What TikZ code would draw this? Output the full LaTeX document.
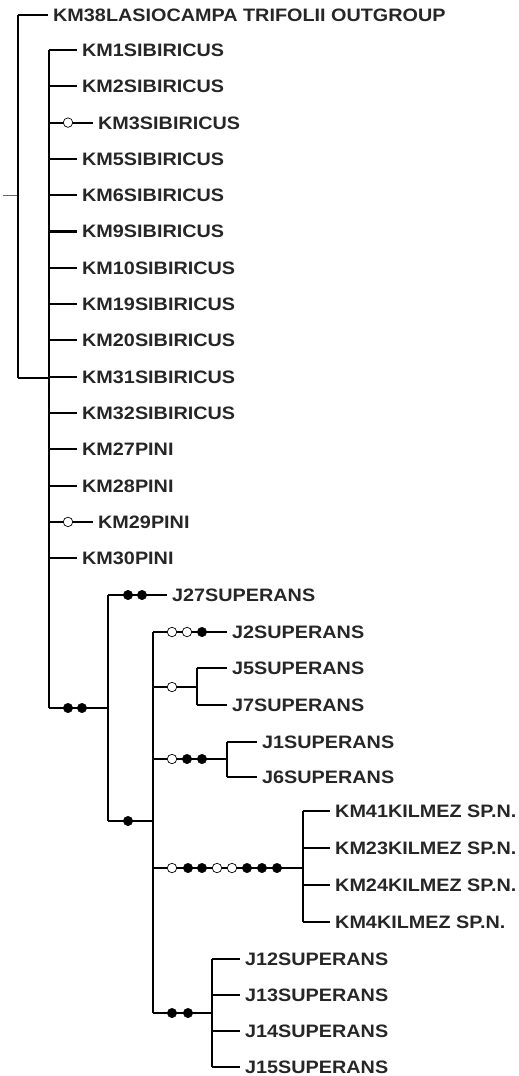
\documentclass[tikz,border=0pt]{standalone}
\usepackage{fontspec}
\setmainfont{Liberation Sans}[FakeStretch=1.1]

\tikzset{
  branch/.style={line width=2.1pt},
  leaf/.style={anchor=west,inner xsep=5pt,inner ysep=0pt,text height=12.9pt,text depth=0pt,
    font=\fontsize{18}{20}\selectfont\bfseries,text=black!85},
  fdot/.style={circle,fill=black,draw=black,line width=.4pt,minimum size=9.5pt,inner sep=0pt},
  odot/.style={circle,fill=white,draw=black,line width=.7pt,minimum size=9.5pt,inner sep=0pt}
}

\begin{document}
\begin{tikzpicture}[x=1pt,y=-1pt]
      \useasboundingbox (0,0) rectangle (519,1076);
      % root
      \coordinate (stub) at (3,195);
      \coordinate (r) at (18,195);
      \coordinate (rt) at (18,15);
      \coordinate (rb) at (18,378);
      \draw[black!60,line width=.7pt] (stub) -- (r);
      \draw[branch] (rt) -- (rb);
      \node[leaf] (km38) at (48,15) {KM38LASIOCAMPA TRIFOLII OUTGROUP};
      \draw[branch] (rt) -- (km38);
      % sibiricus / pini comb
      \coordinate (a) at (49,378);
      \coordinate (at) at (49,50);
      \coordinate (ab) at (49,708);
      \draw[branch] (rb) -- (a);
      \draw[branch] (at) -- (ab);
      \foreach \name/\lab/\lx [count=\i from 0] in {km1/KM1SIBIRICUS/77,km2/KM2SIBIRICUS/77,
          km3/KM3SIBIRICUS/93,km5/KM5SIBIRICUS/77,km6/KM6SIBIRICUS/77,km9/KM9SIBIRICUS/77,
          km10/KM10SIBIRICUS/77,km19/KM19SIBIRICUS/77,km20/KM20SIBIRICUS/77,km31/KM31SIBIRICUS/77,
          km32/KM32SIBIRICUS/77,km27/KM27PINI/77,km28/KM28PINI/77,km29/KM29PINI/93,km30/KM30PINI/77}{
        \coordinate (\name-j) at (49,50+36.3*\i);
        \node[leaf] (\name) at (\lx,50+36.3*\i) {\lab};
        \draw[branch] (\name-j) -- (\name);
      }
      \node[odot] (o3) at (68,50+36.3*2) {};
      \node[odot] (o29) at (68,50+36.3*13) {};
      % superans clade
      \coordinate (s) at (108,708);
      \coordinate (st) at (108,595);
      \coordinate (sb) at (108,821);
      \draw[branch] (ab) -- (s);
      \draw[branch] (st) -- (sb);
      \node[fdot] (s1) at (68,708) {};
      \node[fdot] (s2) at (82,708) {};
      \node[leaf] (j27) at (167,595) {J27SUPERANS};
      \draw[branch] (st) -- (j27);
      \node[fdot] (j27a) at (128,595) {};
      \node[fdot] (j27b) at (142,595) {};
      \coordinate (t) at (153,821);
      \coordinate (tt) at (153,632);
      \coordinate (tb) at (153,1013);
      \draw[branch] (sb) -- (t);
      \draw[branch] (tt) -- (tb);
      \node[fdot] (t1) at (128,821) {};
      % J2
      \node[leaf] (j2) at (227,632) {J2SUPERANS};
      \draw[branch] (tt) -- (j2);
      \node[odot] (j2a) at (172,632) {};
      \node[odot] (j2b) at (187,632) {};
      \node[fdot] (j2c) at (202,632) {};
      % J5, J7
      \coordinate (u) at (153,687);
      \coordinate (u1) at (197,687);
      \coordinate (ut) at (197,668);
      \coordinate (ub) at (197,705);
      \draw[branch] (u) -- (u1);
      \draw[branch] (ut) -- (ub);
      \node[leaf] (j5) at (227,668) {J5SUPERANS};
      \node[leaf] (j7) at (227,705) {J7SUPERANS};
      \draw[branch] (ut) -- (j5);
      \draw[branch] (ub) -- (j7);
      \node[odot] (ua) at (172,687) {};
      % J1, J6
      \coordinate (v) at (153,759);
      \coordinate (v1) at (227,759);
      \coordinate (vt) at (227,742);
      \coordinate (vb) at (227,777);
      \draw[branch] (v) -- (v1);
      \draw[branch] (vt) -- (vb);
      \node[leaf] (j1) at (257,742) {J1SUPERANS};
      \node[leaf] (j6) at (257,777) {J6SUPERANS};
      \draw[branch] (vt) -- (j1);
      \draw[branch] (vb) -- (j6);
      \node[odot] (va) at (172,759) {};
      \node[fdot] (vb1) at (187,759) {};
      \node[fdot] (vc) at (202,759) {};
      % kilmez
      \coordinate (w) at (153,868);
      \coordinate (w1) at (303,868);
      \coordinate (wt) at (303,811);
      \coordinate (wb) at (303,922);
      \draw[branch] (w) -- (w1);
      \draw[branch] (wt) -- (wb);
      \foreach \name/\lab [count=\i from 0] in {km41/KM41KILMEZ SP.N.,km23/KM23KILMEZ SP.N.,
          km24/KM24KILMEZ SP.N.,km4/KM4KILMEZ SP.N.}{
        \coordinate (\name-j) at (303,811+37*\i);
        \node[leaf] (\name) at (330,811+37*\i) {\lab};
        \draw[branch] (\name-j) -- (\name);
      }
      \foreach \x/\s [count=\i] in {172/odot,188/fdot,202/fdot,217/odot,232/odot,247/fdot,262/fdot,277/fdot}
        \node[\s] (w\i) at (\x,868) {};
      % J12 - J15
      \coordinate (z1) at (212,1013);
      \coordinate (zt) at (212,959);
      \coordinate (zb) at (212,1067);
      \draw[branch] (tb) -- (z1);
      \draw[branch] (zt) -- (zb);
      \foreach \name/\lab [count=\i from 0] in {j12/J12SUPERANS,j13/J13SUPERANS,j14/J14SUPERANS,j15/J15SUPERANS}{
        \coordinate (\name-j) at (212,959+36*\i);
        \node[leaf] (\name) at (240,959+36*\i) {\lab};
        \draw[branch] (\name-j) -- (\name);
      }
      \node[fdot] (za) at (172,1013) {};
      \node[fdot] (zb1) at (188,1013) {};
    \end{tikzpicture}
\end{document}
